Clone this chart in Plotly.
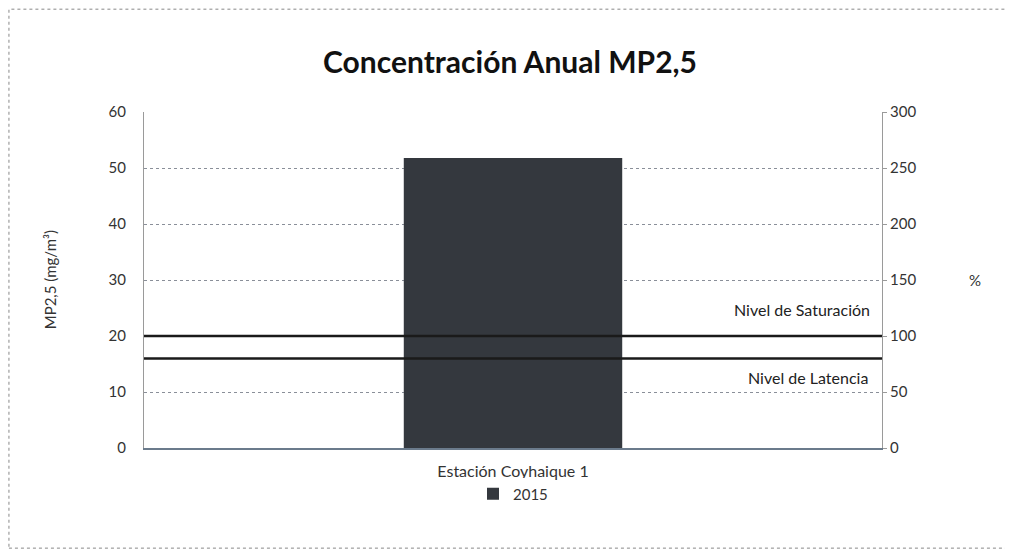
import plotly.graph_objects as go

categories = ["Estación Coyhaique 1"]
series_name = "2015"
values = [51.8]
level_names = ["Nivel de Saturación", "Nivel de Latencia"]
level_values = [20, 16]
y_ticks = [0, 10, 20, 30, 40, 50, 60]
y2_ticks = [0, 50, 100, 150, 200, 250, 300]

font_family = "Lato, 'Open Sans', sans-serif"
tick_color = "#333333"

fig = go.Figure()
fig.add_trace(go.Bar(
    x=categories, y=values, name=series_name,
    marker=dict(color="#34383e", line=dict(width=0)),
    width=0.296, showlegend=True,
))
# invisible trace to activate secondary axis
fig.add_trace(go.Scatter(
    x=categories, y=[v * 5 for v in level_values], yaxis="y2",
    mode="markers", marker=dict(opacity=0), showlegend=False, hoverinfo="skip",
))

shapes = []
annotations = []
label_offsets = [27, -19]
label_x = [0.892, 0.9]
for name, val, off, lx in zip(level_names, level_values, label_offsets, label_x):
    shapes.append(dict(type="line", xref="paper", yref="y", x0=0, x1=1, y0=val, y1=val,
                       line=dict(color="#1a1a1a", width=2.5)))
    annotations.append(dict(xref="paper", yref="y", x=lx, y=val, yshift=off,
                            text=name, showarrow=False, xanchor="center", yanchor="middle",
                            font=dict(family=font_family, size=16, color="#222222")))

# outer chart frame
shapes.append(dict(type="rect", xref="paper", yref="paper", x0=-0.183, x1=1.171, y0=-0.298, y1=1.306,
                   line=dict(color="#888888", width=1, dash="dot"), layer="below"))

annotations.append(dict(xref="paper", yref="paper", x=1.137, y=0.5, text="%", showarrow=False,
                        font=dict(family=font_family, size=15, color=tick_color)))
annotations.append(dict(xref="paper", yref="paper", x=-0.127, y=0.5, text="MP2,5 (mg/m³)",
                        textangle=-90, showarrow=False, xanchor="center", yanchor="middle",
                        font=dict(family=font_family, size=15, color=tick_color)))

fig.update_layout(
    width=1013, height=551,
    margin=dict(l=136, r=139, t=104, b=111),
    paper_bgcolor="white", plot_bgcolor="white",
    title=dict(text="<b>Concentración Anual MP2,5</b>", x=0.4956, xanchor="center",
               y=1 - 54 / 551, yanchor="middle", yref="container",
               font=dict(family=font_family, size=30, color="#111111")),
    xaxis=dict(range=[-0.5, 0.5], showline=True, linecolor="#6b7b8c", linewidth=1.5,
               ticks="", ticklabelstandoff=8,
               tickfont=dict(family=font_family, size=16, color=tick_color)),
    yaxis=dict(range=[0, 60], tickvals=y_ticks, showgrid=True, gridcolor="#8a8f99", griddash="dot",
               gridwidth=1, showline=True, linecolor="#9a9a9a", linewidth=1, zeroline=False,
               ticks="", ticklabelstandoff=14, tickfont=dict(family=font_family, size=15, color=tick_color)),
    yaxis2=dict(range=[0, 300], tickvals=y2_ticks, overlaying="y", side="right", showgrid=False,
                showline=True, linecolor="#9a9a9a", linewidth=1, zeroline=False,
                ticks="outside", ticklen=4, tickcolor="#9a9a9a",
                tickfont=dict(family=font_family, size=15, color=tick_color)),
    legend=dict(orientation="h", x=0.5, xanchor="center", y=-0.137, yanchor="middle",
                font=dict(family=font_family, size=15, color=tick_color)),
    shapes=shapes, annotations=annotations,
)

fig.write_html("out.html")
